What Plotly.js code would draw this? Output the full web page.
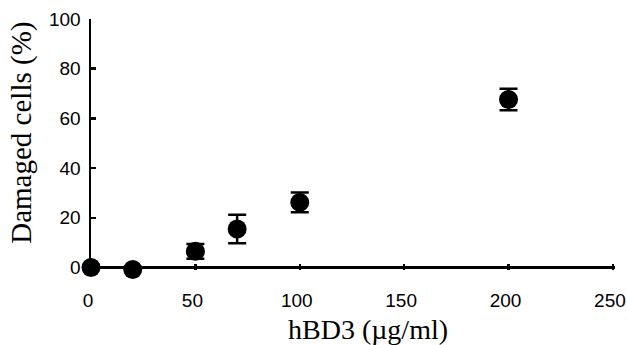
<!DOCTYPE html>
<html>
<head>
<meta charset="utf-8">
<script src="https://cdn.plot.ly/plotly-3.0.1.min.js"></script>
<style>html,body{margin:0;padding:0;background:#fff;}#chart{width:627px;height:345px;}</style>
</head>
<body>
<div id="chart"></div>
<script>
const doses = [0, 20, 50, 70, 100, 200];
const damaged = [0, -0.8, 6.5, 15.5, 26.2, 67.6];
const errors = [1, 1, 3, 5.7, 4, 4.3];
const xTicks = [0, 50, 100, 150, 200, 250];
const yTicks = [0, 20, 40, 60, 80, 100];
const xTitle = 'hBD3 (µg/ml)';
const yTitle = 'Damaged cells (%)';

const trace = {
  x: doses, y: damaged, type: 'scatter', mode: 'markers',
  marker: {color: '#000', size: 19, symbol: 'circle'},
  error_y: {type: 'data', array: errors, visible: true, color: '#000', thickness: 2.5, width: 9},
  cliponaxis: false, showlegend: false, hoverinfo: 'none'
};

const tickFont = {family: "'Liberation Sans', Arial, sans-serif", size: 19, color: '#000'};
const titleFontX = {family: "'Liberation Serif', 'Times New Roman', serif", size: 28, color: '#000'};
const titleFontY = {family: "'Liberation Serif', 'Times New Roman', serif", size: 29, color: '#000'};

// plot area: x 91..615, y 19..270.5 (y=0 at 268)
const yLow = -1;
const pxPerY = 249 / 100;
const plotBottom = 268 + (-yLow) * pxPerY;
const plotH = plotBottom - 19;
const plotW = 615 - 91;

const layout = {
  width: 627, height: 345,
  margin: {l: 91, r: 627 - 615, t: 19, b: 345 - plotBottom},
  paper_bgcolor: '#fff', plot_bgcolor: '#fff',
  xaxis: {
    range: [0, 251], tickvals: xTicks, ticktext: xTicks.map(String),
    showgrid: false, zeroline: false, showline: false,
    ticks: 'inside', ticklen: 6, tickwidth: 2.5, tickcolor: '#000',
    tickfont: tickFont, ticklabelstandoff: 17, ticklabelshift: -3,
    ticklabeloverflow: 'allow'
  },
  yaxis: {
    range: [yLow, 100], tickvals: yTicks, ticktext: yTicks.map(String),
    showgrid: false, zeroline: true, zerolinecolor: '#000', zerolinewidth: 2.5,
    showline: true, linecolor: '#000', linewidth: 2.5,
    ticks: 'inside', ticklen: 5, tickwidth: 2.5, tickcolor: '#000',
    tickfont: tickFont, ticklabelstandoff: 4
  },
  annotations: [
    {text: xTitle, xref: 'paper', yref: 'paper', x: (368 - 91) / plotW, y: -(330 - plotBottom) / plotH,
     xanchor: 'center', yanchor: 'middle', showarrow: false, font: titleFontX},
    {text: yTitle, xref: 'paper', yref: 'paper', x: -(91 - 22) / plotW, y: (plotBottom - 133) / plotH,
     xanchor: 'center', yanchor: 'middle', showarrow: false, textangle: -90, font: titleFontY}
  ]
};

Plotly.newPlot('chart', [trace], layout, {displayModeBar: false, staticPlot: true});
</script>
</body>
</html>
